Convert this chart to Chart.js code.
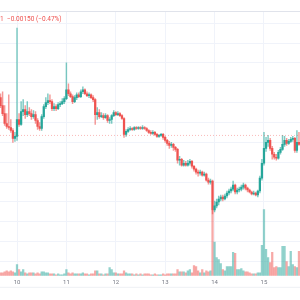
<!DOCTYPE html>
<html>
<head>
<meta charset="utf-8">
<script src="https://cdn.jsdelivr.net/npm/chart.js@4"></script>
<style>
html, body { margin: 0; padding: 0; background: #fff; }
#c { display: block; }
</style>
</head>
<body>
<canvas id="c" width="300" height="300"></canvas>
<script>
// hourly candles, hour 0 = start of day "10"
const dayLabels = ['10', '11', '12', '13', '14', '15'];
const hoursPerDay = 24;
const startHour = -8;

const opens = [
  0.3225, 0.3217, 0.3209, 0.3199, 0.3196, 0.3195, 0.3192, 0.3184,
  0.3186, 0.3203, 0.3198, 0.3211, 0.3213, 0.3208, 0.3211, 0.3209, 0.3206, 0.3208, 0.3202, 0.3196,
  0.3194, 0.3206, 0.3216, 0.3220, 0.3222, 0.3221, 0.3214, 0.3216, 0.3214, 0.3218, 0.3219, 0.3221,
  0.3224, 0.3233, 0.3229, 0.3226, 0.3221, 0.3225, 0.3228, 0.3226, 0.3231, 0.3233, 0.3229, 0.3227,
  0.3228, 0.3225, 0.3223, 0.3208, 0.3210, 0.3206, 0.3207, 0.3205, 0.3207, 0.3202, 0.3203, 0.3207,
  0.3210, 0.3208, 0.3209, 0.3207, 0.3204, 0.3188, 0.3191, 0.3193, 0.3194, 0.3193, 0.3195, 0.3194,
  0.3195, 0.3194, 0.3195, 0.3194, 0.3192, 0.3190, 0.3189, 0.3190, 0.3188, 0.3186, 0.3187, 0.3188,
  0.3185, 0.3182, 0.3179, 0.3177, 0.3178, 0.3175, 0.3173, 0.3162, 0.3163, 0.3157, 0.3159, 0.3157,
  0.3159, 0.3161, 0.3156, 0.3153, 0.3150, 0.3149, 0.3150, 0.3147, 0.3148, 0.3142, 0.3140, 0.3141,
  0.3112, 0.3116, 0.3120, 0.3123, 0.3125, 0.3123, 0.3126, 0.3129, 0.3131, 0.3133, 0.3137, 0.3130,
  0.3132, 0.3133, 0.3135, 0.3137, 0.3134, 0.3132, 0.3130, 0.3128, 0.3129, 0.3127, 0.3131, 0.3144,
  0.3159, 0.3174, 0.3180, 0.3182, 0.3174, 0.3168, 0.3165, 0.3164, 0.3170, 0.3173, 0.3178, 0.3182,
  0.3179, 0.3181, 0.3183, 0.3184, 0.3172, 0.3180
];
const highs = [
  0.3229, 0.3231, 0.3217, 0.3209, 0.3228, 0.3203, 0.3194, 0.3190,
  0.3295, 0.3209, 0.3221, 0.3223, 0.3217, 0.3221, 0.3215, 0.3213, 0.3212, 0.3211, 0.3204, 0.3200,
  0.3208, 0.3218, 0.3225, 0.3229, 0.3228, 0.3223, 0.3219, 0.3218, 0.3220, 0.3221, 0.3224, 0.3226,
  0.3260, 0.3239, 0.3231, 0.3228, 0.3227, 0.3230, 0.3230, 0.3233, 0.3236, 0.3234, 0.3231, 0.3230,
  0.3229, 0.3227, 0.3224, 0.3215, 0.3213, 0.3210, 0.3209, 0.3209, 0.3208, 0.3205, 0.3208, 0.3212,
  0.3211, 0.3211, 0.3210, 0.3208, 0.3205, 0.3193, 0.3195, 0.3196, 0.3195, 0.3196, 0.3196, 0.3196,
  0.3196, 0.3197, 0.3196, 0.3195, 0.3193, 0.3192, 0.3192, 0.3191, 0.3189, 0.3188, 0.3189, 0.3189,
  0.3186, 0.3183, 0.3181, 0.3180, 0.3179, 0.3176, 0.3174, 0.3166, 0.3164, 0.3162, 0.3161, 0.3162,
  0.3163, 0.3162, 0.3157, 0.3154, 0.3152, 0.3152, 0.3151, 0.3150, 0.3149, 0.3144, 0.3143, 0.3142,
  0.3121, 0.3123, 0.3126, 0.3127, 0.3127, 0.3128, 0.3131, 0.3133, 0.3135, 0.3141, 0.3138, 0.3134,
  0.3135, 0.3137, 0.3139, 0.3138, 0.3135, 0.3133, 0.3131, 0.3131, 0.3130, 0.3132, 0.3146, 0.3163,
  0.3190, 0.3185, 0.3187, 0.3184, 0.3176, 0.3170, 0.3168, 0.3172, 0.3175, 0.3187, 0.3186, 0.3184,
  0.3183, 0.3185, 0.3186, 0.3185, 0.3192, 0.3190
];
const lows = [
  0.3215, 0.3207, 0.3197, 0.3194, 0.3193, 0.3190, 0.3180, 0.3181,
  0.3182, 0.3196, 0.3197, 0.3207, 0.3204, 0.3206, 0.3207, 0.3203, 0.3204, 0.3199, 0.3193, 0.3192,
  0.3192, 0.3204, 0.3214, 0.3218, 0.3219, 0.3212, 0.3212, 0.3212, 0.3213, 0.3216, 0.3218, 0.3219,
  0.3223, 0.3227, 0.3225, 0.3219, 0.3220, 0.3223, 0.3225, 0.3225, 0.3229, 0.3228, 0.3226, 0.3225,
  0.3224, 0.3221, 0.3198, 0.3203, 0.3204, 0.3205, 0.3203, 0.3204, 0.3200, 0.3199, 0.3199, 0.3206,
  0.3207, 0.3207, 0.3206, 0.3203, 0.3185, 0.3186, 0.3190, 0.3192, 0.3192, 0.3192, 0.3193, 0.3193,
  0.3193, 0.3193, 0.3193, 0.3191, 0.3189, 0.3188, 0.3188, 0.3187, 0.3185, 0.3185, 0.3186, 0.3183,
  0.3180, 0.3177, 0.3174, 0.3175, 0.3172, 0.3171, 0.3159, 0.3157, 0.3156, 0.3156, 0.3156, 0.3156,
  0.3157, 0.3154, 0.3151, 0.3148, 0.3146, 0.3147, 0.3146, 0.3146, 0.3141, 0.3138, 0.3138, 0.3108,
  0.3110, 0.3114, 0.3117, 0.3121, 0.3121, 0.3122, 0.3124, 0.3127, 0.3129, 0.3131, 0.3128, 0.3128,
  0.3130, 0.3131, 0.3133, 0.3132, 0.3130, 0.3129, 0.3127, 0.3127, 0.3126, 0.3125, 0.3129, 0.3142,
  0.3157, 0.3171, 0.3176, 0.3172, 0.3163, 0.3163, 0.3162, 0.3163, 0.3168, 0.3172, 0.3176, 0.3177,
  0.3178, 0.3180, 0.3181, 0.3170, 0.3170, 0.3177
];
const closes = [
  0.3217, 0.3209, 0.3199, 0.3196, 0.3195, 0.3192, 0.3184, 0.3186,
  0.3203, 0.3198, 0.3211, 0.3213, 0.3208, 0.3211, 0.3209, 0.3206, 0.3208, 0.3202, 0.3196, 0.3194,
  0.3206, 0.3216, 0.3220, 0.3222, 0.3221, 0.3214, 0.3216, 0.3214, 0.3218, 0.3219, 0.3221, 0.3224,
  0.3233, 0.3229, 0.3226, 0.3221, 0.3225, 0.3228, 0.3226, 0.3231, 0.3233, 0.3229, 0.3227, 0.3228,
  0.3225, 0.3223, 0.3208, 0.3210, 0.3206, 0.3207, 0.3205, 0.3207, 0.3202, 0.3203, 0.3207, 0.3210,
  0.3208, 0.3209, 0.3207, 0.3204, 0.3188, 0.3191, 0.3193, 0.3194, 0.3193, 0.3195, 0.3194, 0.3195,
  0.3194, 0.3195, 0.3194, 0.3192, 0.3190, 0.3189, 0.3190, 0.3188, 0.3186, 0.3187, 0.3188, 0.3185,
  0.3182, 0.3179, 0.3177, 0.3178, 0.3175, 0.3173, 0.3162, 0.3163, 0.3157, 0.3159, 0.3157, 0.3159,
  0.3161, 0.3156, 0.3153, 0.3150, 0.3149, 0.3150, 0.3147, 0.3148, 0.3142, 0.3140, 0.3141, 0.3112,
  0.3116, 0.3120, 0.3123, 0.3125, 0.3123, 0.3126, 0.3129, 0.3131, 0.3133, 0.3137, 0.3130, 0.3132,
  0.3133, 0.3135, 0.3137, 0.3134, 0.3132, 0.3130, 0.3128, 0.3129, 0.3127, 0.3131, 0.3144, 0.3159,
  0.3174, 0.3180, 0.3182, 0.3174, 0.3168, 0.3165, 0.3164, 0.3170, 0.3173, 0.3178, 0.3182, 0.3179,
  0.3181, 0.3183, 0.3184, 0.3172, 0.3180, 0.3178
];
const volumes = [
  150, 150, 200, 250, 200, 250, 200, 150,
  550, 300, 200, 300, 150, 100, 150, 150, 150, 100, 150, 100, 200, 200, 150, 150, 100, 100, 100, 50, 100, 50, 50, 100,
  300, 150, 100, 150, 100, 100, 100, 100, 150, 100, 100, 50, 100, 100, 250, 250, 100, 100, 50, 100, 100, 400, 300, 150,
  150, 100, 100, 100, 250, 150, 100, 100, 100, 50, 100, 50, 100, 50, 100, 100, 100, 50, 50, 100, 50, 50, 50, 100,
  50, 100, 100, 100, 100, 100, 300, 200, 200, 200, 150, 250, 300, 150, 500, 450, 250, 150, 300, 150, 250, 200, 250, 3200,
  1650, 900, 800, 600, 300, 250, 450, 450, 450, 1150, 1100, 300, 300, 350, 250, 200, 200, 150, 100, 100, 100, 150, 150, 1500,
  3250, 1300, 900, 650, 1150, 400, 450, 400, 400, 1450, 1450, 700, 450, 1200, 550, 450, 400, 1200
];

const priceGrid = [0.306, 0.308, 0.310, 0.312, 0.314, 0.316, 0.318, 0.320, 0.322, 0.324, 0.326, 0.328, 0.330];
const lastPrice = 0.3187;
const headerLast = '1';
const headerChange = '\u22120.00150 (\u22120.47%)';

// visible window
const xMin = -8.26, xMax = 137.5;
const yMin = 0.304565, yMax = 0.331128;
const volMax = 12950;

const up = '#26a69a', down = '#ef5350';
const upSoft = 'rgba(38,166,154,0.5)', downSoft = 'rgba(239,83,80,0.5)';

const isUp = opens.map((o, k) => closes[k] >= o);
const hours = opens.map((o, k) => startHour + k);

const paneLines = {
  id: 'paneLines',
  beforeDatasetsDraw(chart) {
    const ctx = chart.ctx, a = chart.chartArea;
    ctx.save();
    ctx.strokeStyle = '#e0e3eb';
    ctx.lineWidth = 1;
    ctx.beginPath();
    ctx.moveTo(0, a.top - 0.5);
    ctx.lineTo(chart.width, a.top - 0.5);
    ctx.stroke();
    ctx.strokeStyle = '#eef0f4';
    ctx.beginPath();
    ctx.moveTo(0, a.bottom + 11.5);
    ctx.lineTo(chart.width, a.bottom + 11.5);
    ctx.stroke();
    ctx.restore();
  },
  afterDraw(chart) {
    const ctx = chart.ctx;
    ctx.save();
    ctx.fillStyle = down;
    ctx.font = '6.5px Roboto';
    ctx.textBaseline = 'middle';
    ctx.fillText(headerLast, 0, 19.5);
    ctx.fillText(headerChange, 7, 19.5);
    ctx.restore();
  }
};

new Chart(document.getElementById('c'), {
  type: 'bar',
  data: {
    datasets: [
      {
        type: 'line',
        data: [{x: xMin, y: lastPrice}, {x: xMax, y: lastPrice}],
        borderColor: 'rgba(239,83,80,0.4)',
        borderWidth: 1,
        borderDash: [1, 2],
        pointRadius: 0,
        order: 0,
        yAxisID: 'y'
      },
      {
        data: hours.map((h, k) => ({x: h, y: [opens[k], closes[k]]})),
        backgroundColor: isUp.map(u => u ? up : down),
        barThickness: 1.6,
        minBarLength: 1,
        grouped: false,
        order: 1,
        yAxisID: 'y'
      },
      {
        data: hours.map((h, k) => ({x: h, y: [lows[k], highs[k]]})),
        backgroundColor: isUp.map(u => u ? 'rgba(38,166,154,0.6)' : 'rgba(239,83,80,0.6)'),
        barThickness: 0.8,
        grouped: false,
        order: 2,
        yAxisID: 'y'
      },
      {
        data: hours.map((h, k) => ({x: h, y: volumes[k]})),
        backgroundColor: isUp.map(u => u ? upSoft : downSoft),
        barThickness: 1.6,
        grouped: false,
        order: 3,
        yAxisID: 'vol'
      }
    ]
  },
  options: {
    responsive: false,
    animation: false,
    layout: { padding: { top: 12, left: 0, right: 0, bottom: 11 } },
    plugins: { legend: { display: false }, tooltip: { enabled: false } },
    scales: {
      x: {
        type: 'linear',
        min: xMin,
        max: xMax,
        offset: false,
        afterBuildTicks: s => { s.ticks = dayLabels.map((d, k) => ({value: k * hoursPerDay})); },
        ticks: {
          callback: v => dayLabels[Math.round(v / hoursPerDay)],
          font: { size: 6, family: 'Roboto' },
          color: '#787b86',
          padding: 3,
          maxRotation: 0,
          autoSkip: false
        },
        grid: { color: '#f0f3fa', drawTicks: false, offset: false },
        border: { display: false }
      },
      y: {
        min: yMin,
        max: yMax,
        afterBuildTicks: s => { s.ticks = priceGrid.map(v => ({value: v})); },
        afterFit: s => { s.width = 0; },
        ticks: { display: false },
        grid: { color: '#f0f3fa', drawTicks: false },
        border: { display: false }
      },
      vol: {
        display: false,
        min: 0,
        max: volMax
      }
    }
  },
  plugins: [paneLines]
});
</script>
</body>
</html>
